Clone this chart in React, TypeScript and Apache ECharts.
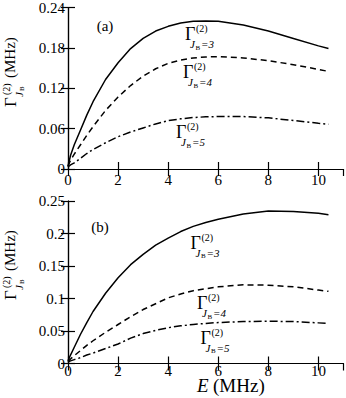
import React, { useEffect, useRef } from "react";
import * as echarts from "echarts";

// E (MHz) sample positions
const energyA = [0, 0.1, 0.25, 0.5, 0.75, 1, 1.5, 2, 2.5, 3, 3.5, 4, 4.5, 5, 5.5, 6, 7, 8, 9, 10, 10.4];
const topJ3 = [0.004, 0.02, 0.036, 0.058, 0.08, 0.1, 0.133, 0.158, 0.179, 0.194, 0.205, 0.212, 0.217, 0.2195, 0.22, 0.2195, 0.214, 0.205, 0.194, 0.183, 0.179];
const topJ4 = [0.004, 0.013, 0.022, 0.036, 0.05, 0.063, 0.087, 0.107, 0.124, 0.138, 0.149, 0.157, 0.162, 0.165, 0.1665, 0.167, 0.165, 0.161, 0.155, 0.148, 0.145];
const topJ5 = [0.003, 0.006, 0.009, 0.016, 0.023, 0.029, 0.039, 0.048, 0.055, 0.061, 0.067, 0.072, 0.0745, 0.0765, 0.0775, 0.078, 0.078, 0.076, 0.072, 0.068, 0.0665];

const botJ3 = [0.004, 0.013, 0.025, 0.045, 0.063, 0.08, 0.108, 0.132, 0.152, 0.168, 0.182, 0.193, 0.203, 0.211, 0.217, 0.222, 0.23, 0.2345, 0.234, 0.231, 0.229];
const botJ4 = [0.003, 0.007, 0.012, 0.02, 0.028, 0.035, 0.048, 0.06, 0.072, 0.083, 0.092, 0.101, 0.107, 0.112, 0.115, 0.118, 0.121, 0.1205, 0.118, 0.113, 0.111];
const botJ5 = [0.002, 0.004, 0.006, 0.009, 0.013, 0.016, 0.023, 0.03, 0.039, 0.046, 0.051, 0.055, 0.058, 0.06, 0.0617, 0.063, 0.0645, 0.065, 0.0645, 0.0625, 0.0617];

const xTicksMax = 11;
const topYMax = 0.24;
const topYStep = 0.06;
const botYMax = 0.25;
const botYStep = 0.05;

const FONT = "'Liberation Serif', 'DejaVu Serif', serif";

const pairs = (ys: number[]) => energyA.map((e, i) => [e, ys[i]]);

function gammaLabel(x: number, y: number, sub: string, big = 18) {
  return {
    type: "group",
    x,
    y,
    children: [
      { type: "text", x: 0, y: 6, style: { text: "Γ", font: `${big}px ${FONT}`, fill: "#000", verticalAlign: "middle" } },
      { type: "text", x: 11, y: 0.5, style: { text: "(2)", font: `10px ${FONT}`, fill: "#000", verticalAlign: "middle" } },
      { type: "text", x: 5, y: 16, style: { text: "J", font: `italic 11px ${FONT}`, fill: "#000", verticalAlign: "middle" } },
      { type: "text", x: 10.5, y: 19.5, style: { text: "B", font: `7px ${FONT}`, fill: "#000", verticalAlign: "middle" } },
      { type: "text", x: 16, y: 16, style: { text: "=" + sub, font: `italic 11px ${FONT}`, fill: "#000", verticalAlign: "middle" } },
    ],
  };
}

function yTitle(x: number, y: number) {
  return {
    type: "group",
    x,
    y,
    rotation: Math.PI / 2,
    children: [
      { type: "text", x: 0, y: 0, style: { text: "Γ", font: `17px ${FONT}`, fill: "#000", verticalAlign: "middle" } },
      { type: "text", x: 12, y: -4, style: { text: "(2)", font: `10px ${FONT}`, fill: "#000", verticalAlign: "middle" } },
      { type: "text", x: 10, y: 8.5, style: { text: "J", font: `italic 11px ${FONT}`, fill: "#000", verticalAlign: "middle" } },
      { type: "text", x: 16, y: 11.5, style: { text: "B", font: `7px ${FONT}`, fill: "#000", verticalAlign: "middle" } },
      { type: "text", x: 29, y: 0, style: { text: "(MHz)", font: `15px ${FONT}`, fill: "#000", verticalAlign: "middle" } },
    ],
  };
}

export default function App() {
  const ref = useRef<HTMLDivElement>(null);
  useEffect(() => {
    if (!ref.current) return;
    const chart = echarts.init(ref.current, undefined, { renderer: "svg" });
    const axisLine = { show: true, lineStyle: { color: "#000", width: 1.2 } };
    const tick = { show: true, inside: true, length: 7, lineStyle: { color: "#000", width: 1.2 } };
    const lbl = { color: "#000", fontFamily: FONT, fontSize: 15 };
    const xAx = (grid: number, pos: string, showLabel: boolean, margin: number) => ({
      type: "value",
      gridIndex: grid,
      position: pos,
      min: 0,
      max: xTicksMax,
      interval: 2,
      axisLine,
      axisTick: tick,
      splitLine: { show: false },
      axisLabel: { ...lbl, show: showLabel, margin, showMaxLabel: false },
    });
    const yAx = (grid: number, pos: string, showLabel: boolean, max: number, step: number) => ({
      type: "value",
      gridIndex: grid,
      position: pos,
      min: 0,
      max,
      interval: step,
      axisLine,
      axisTick: tick,
      splitLine: { show: false },
      axisLabel: { ...lbl, show: showLabel, margin: 3 },
    });
    const line = (xi: number, yi: number, data: number[][], type: any) => ({
      type: "line",
      xAxisIndex: xi,
      yAxisIndex: yi,
      data,
      showSymbol: false,
      symbol: "none",
      lineStyle: { color: "#000", width: 1.5, type },
      z: 3,
    });
    chart.setOption({
      animation: false,
      backgroundColor: "#fff",
      grid: [
        { left: 68, top: 7, width: 275.5, height: 162 },
        { left: 68, top: 201, width: 275.5, height: 162.5 },
      ],
      xAxis: [xAx(0, "bottom", true, 3), xAx(0, "top", false, 3), xAx(1, "bottom", true, 0), xAx(1, "top", false, 3)],
      yAxis: [
        yAx(0, "left", true, topYMax, topYStep),
        yAx(0, "right", false, topYMax, topYStep),
        yAx(1, "left", true, botYMax, botYStep),
        yAx(1, "right", false, botYMax, botYStep),
      ],
      series: [
        line(0, 0, pairs(topJ3), "solid"),
        line(0, 0, pairs(topJ4), [6, 4]),
        line(0, 0, pairs(topJ5), [8, 3, 2, 3]),
        line(2, 2, pairs(botJ3), "solid"),
        line(2, 2, pairs(botJ4), [6, 4]),
        line(2, 2, pairs(botJ5), [8, 3, 2, 3]),
      ],
      graphic: [
        { type: "text", x: 105, y: 26, style: { text: "(a)", font: `15px ${FONT}`, fill: "#000", align: "center", verticalAlign: "middle" } },
        { type: "text", x: 100, y: 226.5, style: { text: "(b)", font: `15px ${FONT}`, fill: "#000", align: "center", verticalAlign: "middle" } },
        gammaLabel(185, 28, "3"),
        gammaLabel(183, 66, "4"),
        gammaLabel(176, 126, "5"),
        gammaLabel(190.5, 236.5, "3"),
        gammaLabel(197, 297, "4"),
        gammaLabel(200.5, 331.5, "5"),
        yTitle(10, 107),
        yTitle(10, 300),
        { type: "text", x: 197, y: 385, style: { text: "E", font: `italic 19px ${FONT}`, fill: "#000", verticalAlign: "middle" } },
        { type: "text", x: 213, y: 385, style: { text: "(MHz)", font: `19px ${FONT}`, fill: "#000", verticalAlign: "middle" } },
      ],
    });
    return () => chart.dispose();
  }, []);
  return <div ref={ref} style={{ width: 346, height: 398, position: "absolute", left: 0, top: 0 }} />;
}
